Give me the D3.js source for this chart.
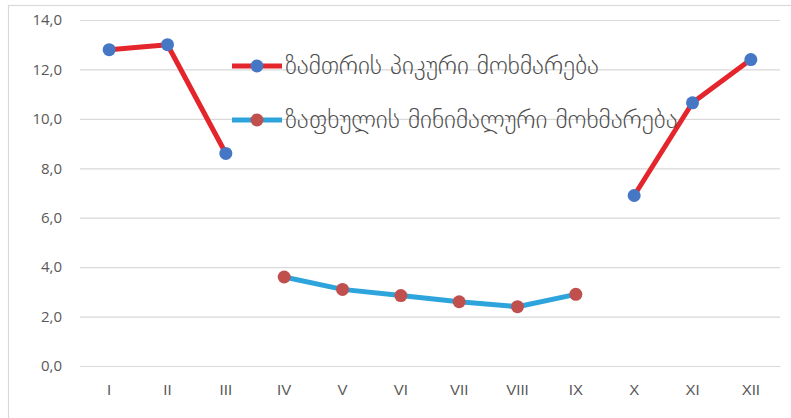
<!DOCTYPE html>
<html>
<head>
<meta charset="utf-8">
<script src="https://cdn.jsdelivr.net/npm/d3@7"></script>
<style>
  html, body { margin: 0; padding: 0; background: #fff; }
  svg { display: block; }
</style>
</head>
<body>
<svg id="chart" width="791" height="418"></svg>
<script>
// Monthly categories (Roman numerals) and the two consumption series
const months = ["I", "II", "III", "IV", "V", "VI", "VII", "VIII", "IX", "X", "XI", "XII"];
const winterPeak = [12.8, 13.0, 8.6, null, null, null, null, null, null, 6.9, 10.65, 12.4];
const summerMin = [null, null, null, 3.6, 3.1, 2.85, 2.6, 2.4, 2.9, null, null, null];
const yTicks = [0, 2, 4, 6, 8, 10, 12, 14];
const seriesNames = ["ზამთრის პიკური მოხმარება", "ზაფხულის მინიმალური მოხმარება"];

const svg = d3.select("#chart");
const plotLeft = 80, plotRight = 780, plotTop = 20, plotBottom = 366;

// outer frame
svg.append("rect")
  .attr("x", 8.5).attr("y", 5.5).attr("width", 790).attr("height", 420)
  .attr("fill", "none").attr("stroke", "#d9d9d9").attr("stroke-width", 1.2);

const x = d3.scaleBand().domain(months).range([plotLeft, plotRight]);
const y = d3.scaleLinear().domain([0, 14]).range([plotBottom, plotTop]);

// gridlines + y labels
const yAxis = d3.axisLeft(y).tickValues(yTicks)
  .tickSize(-(plotRight - plotLeft)).tickPadding(18)
  .tickFormat(d => d3.format(".1f")(d).replace(".", ","));
const gy = svg.append("g").attr("transform", `translate(${plotLeft},0)`).call(yAxis);
gy.select(".domain").remove();
gy.selectAll(".tick line").attr("stroke", "#d9d9d9").attr("stroke-width", 1.2);
gy.selectAll(".tick text")
  .attr("fill", "#595959")
  .style("font-family", "'Open Sans', 'Liberation Sans', sans-serif")
  .style("font-size", "15px");

// x axis labels
const xAxis = d3.axisBottom(x).tickSize(0).tickPadding(18);
const gx = svg.append("g").attr("transform", `translate(0,${plotBottom})`).call(xAxis);
gx.select(".domain").attr("stroke", "#d9d9d9").attr("stroke-width", 1.2);
gx.selectAll(".tick text")
  .attr("fill", "#595959")
  .style("font-family", "'Liberation Sans Narrow', 'Liberation Sans', sans-serif")
  .style("font-size", "15px")
  .style("font-weight", "300");

const cx = d => x(d) + x.bandwidth() / 2;

function drawSeries(values, lineColor, markerColor) {
  const pts = months.map((m, i) => ({ m, v: values[i] }));
  const line = d3.line()
    .defined(d => d.v !== null)
    .x(d => cx(d.m)).y(d => y(d.v));
  svg.append("path")
    .datum(pts)
    .attr("d", line)
    .attr("fill", "none")
    .attr("stroke", lineColor)
    .attr("stroke-width", 5)
    .attr("stroke-linejoin", "round")
    .attr("stroke-linecap", "round");
  svg.append("g").selectAll("circle")
    .data(pts.filter(d => d.v !== null))
    .join("circle")
    .attr("cx", d => cx(d.m)).attr("cy", d => y(d.v))
    .attr("r", 6.5)
    .attr("fill", markerColor);
}

const red = "#e4252b", blue = "#2ea4dc";
const blueMarker = "#4677c4", redMarker = "#c0504d";

drawSeries(winterPeak, red, blueMarker);
drawSeries(summerMin, blue, redMarker);

// legend
const legend = [
  { name: seriesNames[0], line: red, marker: blueMarker, y: 66 },
  { name: seriesNames[1], line: blue, marker: redMarker, y: 120 }
];
const lg = svg.append("g").selectAll("g").data(legend).join("g")
  .attr("transform", d => `translate(232,${d.y})`);
lg.append("line").attr("x1", 0).attr("x2", 50).attr("y1", 0).attr("y2", 0)
  .attr("stroke", d => d.line).attr("stroke-width", 5);
lg.append("circle").attr("cx", 25).attr("cy", 0).attr("r", 6.5).attr("fill", d => d.marker);
const lt = lg.append("text").attr("x", 53).attr("y", 0).attr("dy", "0.3em")
  .text(d => d.name)
  .attr("fill", "#4d4d4d")
  .style("font-family", "'DejaVu Sans', sans-serif")
  .style("font-weight", "200")
  .style("font-size", "26px");

// fit the first label to ~314px, then shared size/spacing for both
const firstNode = lt.node();
let natural = firstNode.getComputedTextLength();
let size = 26;
if (natural > 314) {
  size = 26 * 314 / natural;
  lt.style("font-size", size + "px");
  natural = firstNode.getComputedTextLength();
}
const spacing = Math.max(0, (314 - natural) / seriesNames[0].length);
lt.style("letter-spacing", spacing + "px");
</script>
</body>
</html>
